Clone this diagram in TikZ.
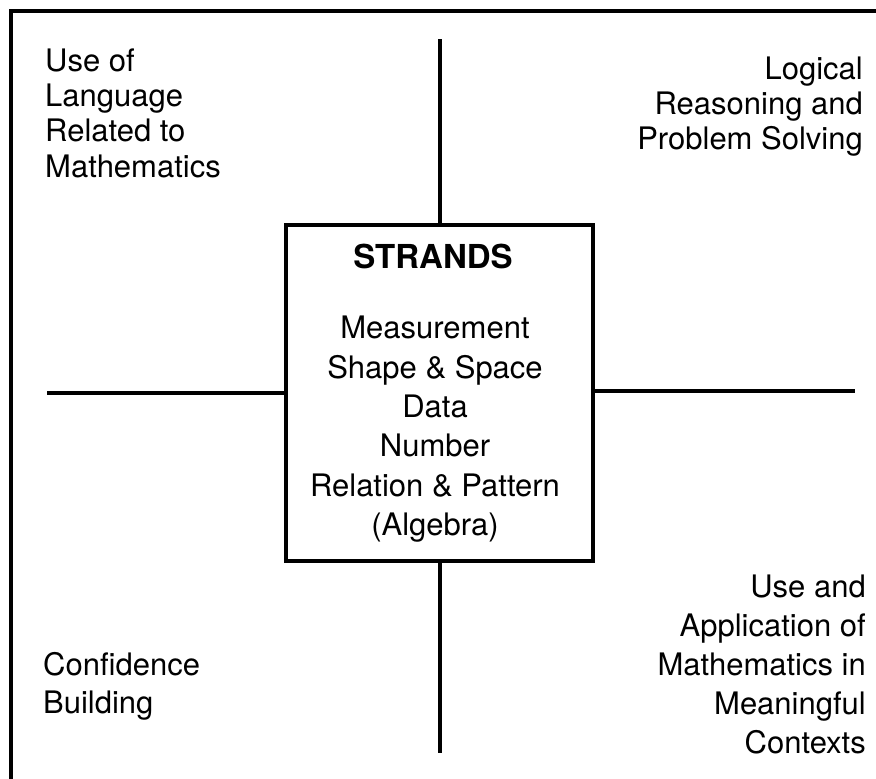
\documentclass[tikz,border=0pt]{standalone}
\usepackage{fontspec}
\setmainfont{TeX Gyre Heros}
\begin{document}
\begin{tikzpicture}[x=1pt,y=-1pt,
  rule/.style={line width=3.6pt},
  lbl/.style={inner sep=0pt, font=\fontsize{31}{35.3}\selectfont},
  mid/.style={inner sep=0pt, align=center, font=\fontsize{31}{39.3}\selectfont}]
\useasboundingbox (0,0) rectangle (876,779);
% outer frame (top and left)
\draw[rule, line cap=rect] (876,11) -- (11,11) -- (11,779);
% central box
\node[draw, rule, minimum width=307pt, minimum height=336pt, inner sep=0pt] (box) at (439.5,393) {};
\node[inner sep=0pt, font=\fontsize{33}{38}\selectfont\bfseries, anchor=north] (strands) at (433,244) {STRANDS};
\node[mid, anchor=north] (list) at (435,316) {Measurement\\Shape \& Space\\Data\\Number\\Relation \& Pattern\\(Algebra)};
% axes
\coordinate (top) at (440,39);
\coordinate (bot) at (440,753);
\coordinate (lft) at (47,393);
\coordinate (rgt) at (855,391);
\draw[rule] (top) -- (box.north -| top);
\draw[rule] (box.south -| bot) -- (bot);
\draw[rule] (lft) -- (box.west |- lft);
\draw[rule] (box.east |- rgt) -- (rgt);
% corner labels
\node[lbl, align=left, anchor=north west] (tl) at (45,48.5) {Use of\\Language\\Related to\\Mathematics};
\node[lbl, align=right, anchor=north east] (tr) at (863,56.5) {Logical\\Reasoning and\\Problem Solving};
\node[lbl, align=left, anchor=north west, font=\fontsize{31}{38}\selectfont] (bl) at (43,652) {Confidence\\Building};
\node[lbl, align=right, anchor=north east, font=\fontsize{31}{39}\selectfont] (br) at (866,574.5) {Use and\\Application of\\Mathematics in\\Meaningful\\Contexts};
\end{tikzpicture}
\end{document}
